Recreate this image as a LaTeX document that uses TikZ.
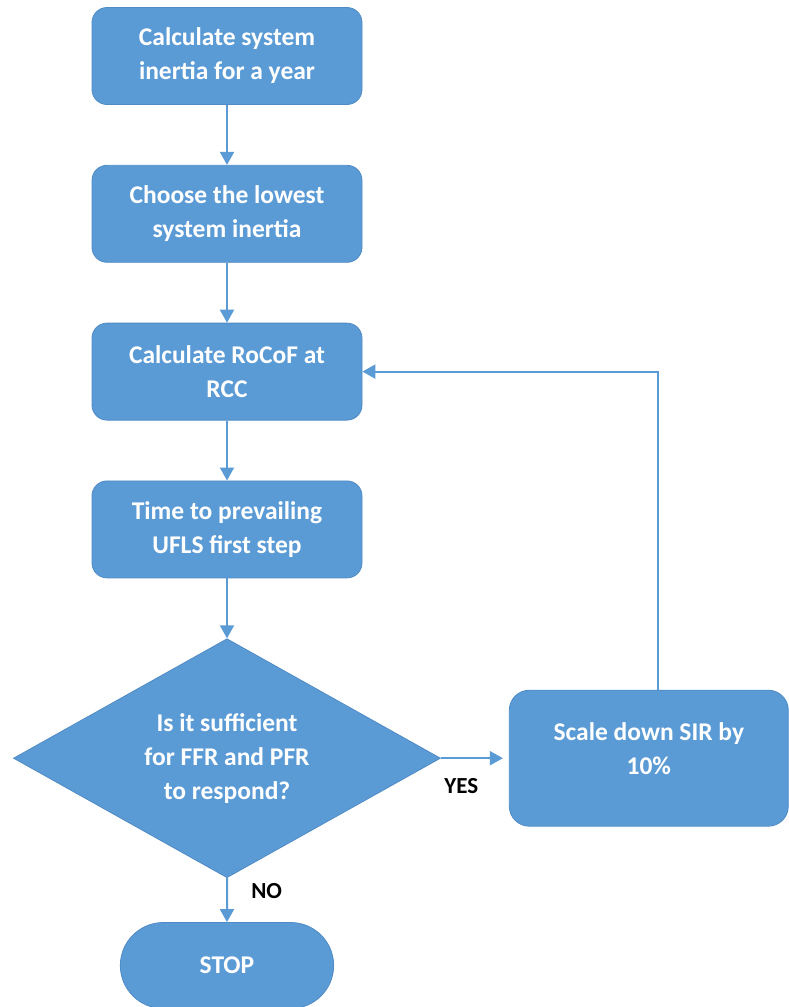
\documentclass[tikz,border=0pt]{standalone}
\usepackage{fontspec}
\setmainfont{Carlito}
\usetikzlibrary{arrows.meta,positioning,shapes.geometric,shapes.misc}
\definecolor{boxblue}{HTML}{5B9BD5}
\definecolor{edgeblue}{HTML}{4F8BC4}
\begin{document}
\begin{tikzpicture}[
  x=1pt, y=1pt,
  font=\fontsize{25.5}{34}\selectfont\bfseries,
  node distance=60pt,
  box/.style={draw=edgeblue, fill=boxblue, text=white, rounded corners=15pt, align=center, minimum width=270pt, minimum height=97pt, line width=0.8pt},
  decision/.style={diamond, draw=edgeblue, fill=boxblue, text=white, align=center, aspect=1.79, minimum width=427pt, minimum height=239pt, inner sep=0pt, line width=0.8pt},
  terminal/.style={rounded rectangle, draw=edgeblue, fill=boxblue, text=white, minimum width=220pt, minimum height=86pt, line width=0.8pt},
  lbl/.style={font=\fontsize{23}{26}\selectfont\bfseries, text=black},
  arrow/.style={-{Triangle[width=14pt,length=13pt]}, draw=boxblue, line width=2pt}
]
\useasboundingbox (0,0) rectangle (788,-1007);
\node[box] (inertia) at (227,-56) {Calculate system\\inertia for a year};
\node[box, below=of inertia] (lowest) {Choose the lowest\\system inertia};
\node[box, below=of lowest] (rocof) {Calculate RoCoF at\\RCC};
\node[box, below=of rocof] (ufls) {Time to prevailing\\UFLS first step};
\node[decision, below=60pt of ufls] (suff) {Is it sufficient\\for FFR and PFR\\to respond?};
\node[box, right=68pt of suff, minimum width=279pt, minimum height=136pt, rounded corners=20pt] (scale) {Scale down SIR by\\10\%\\[-14pt]};
\node[terminal, below=44pt of suff] (stop) {STOP};
\draw[arrow] (inertia) -- (lowest);
\draw[arrow] (lowest) -- (rocof);
\draw[arrow] (rocof) -- (ufls);
\draw[arrow] (ufls) -- (suff);
\draw[arrow, shorten >=6pt] (suff) -- node[lbl, below=16pt, pos=0.3] {YES} (scale);
\draw[arrow] (suff) -- node[lbl, right=20pt, pos=0.3] {NO} (stop);
\draw[arrow] ([xshift=9pt]scale.north) |- (rocof.east);
\end{tikzpicture}
\end{document}
